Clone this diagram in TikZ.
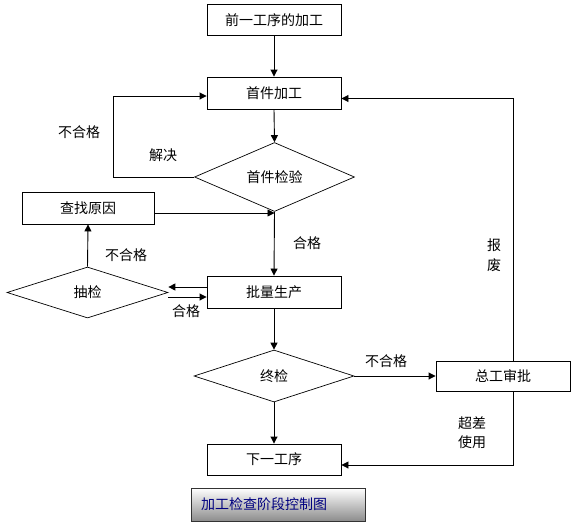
\documentclass[tikz,border=0pt]{standalone}
\usepackage{fontspec}
\newfontfamily\cjk{Noto Sans CJK SC}
\usetikzlibrary{arrows.meta,shapes.geometric}
\begin{document}
\begin{tikzpicture}[x=1pt,y=-1pt,
  every node/.style={font=\cjk\fontsize{14}{16}\selectfont},
  boxnode/.style={draw,line width=0.9pt,minimum width=134pt,minimum height=31pt,inner sep=0pt},
  dia/.style={draw,line width=0.7pt,shape=diamond,minimum width=160pt,minimum height=52pt,inner sep=0pt},
  arr/.style={line width=0.9pt,-{Triangle[length=7pt,width=7pt]}},
  lbl/.style={inner sep=0pt,align=center}]
\useasboundingbox (0,0) rectangle (580,527);
\fill[white] (0,0) rectangle (580,527);
% nodes
\node[boxnode] (b1) at (274,20) {前一工序的加工};
\node[boxnode,minimum height=32pt] (b2) at (274,93) {首件加工};
\node[dia] (d1) at (274.5,177) {首件检验};
\node[boxnode,minimum width=132pt,minimum height=32pt] (find) at (88,208) {查找原因};
\node[boxnode,minimum height=32pt] (mass) at (274,292) {批量生产};
\node[dia,minimum width=161pt,minimum height=51pt] (d2) at (87.5,292.5) {抽检};
\node[dia] (d3) at (274,376) {终检};
\node[boxnode,minimum height=30pt] (app) at (503,376) {总工审批};
\node[boxnode] (next) at (274,459.5) {下一工序};
\node[draw=black!80,line width=0.9pt,top color=white,bottom color=black!45,
      minimum width=174pt,minimum height=33pt,inner sep=0pt,text width=154pt,
      text=blue!50!black,align=left] (title) at (278,504.5) {加工检查阶段控制图};
% labels
\node[lbl] (l1) at (79,132) {不合格};
\node[lbl] (l2) at (163,155) {解决};
\node[lbl] (l3) at (307,243) {合格};
\node[lbl] (l4) at (126,255) {不合格};
\node[lbl] (l5) at (186,311) {合格};
\node[lbl] (l6) at (386,361) {不合格};
\node[lbl,font=\cjk\fontsize{14}{20}\selectfont] (l7) at (494,255) {报\\废};
\node[lbl,font=\cjk\fontsize{14}{19}\selectfont] (l8) at (472,433) {超差\\使用};
% connectors
\draw[arr] (b1.south) -- (b2.north);
\draw[arr] (b2.south) -- (d1.north);
\draw[arr] (d1.west) -- ++(-81,0) |- ([yshift=-3pt]b2.west);
\draw[arr] (d1.south) -- (mass.north);
\draw[arr] ([yshift=-5pt]find.east) -- ([yshift=-5pt]find.east -| d1.south);
\draw[arr] (d2.north) -- (find.south);
\draw[arr] ([yshift=5pt]mass.west) -- ([yshift=5pt]mass.west -| d2.east);
\draw[arr] ([yshift=-5pt]mass.west -| d2.east) -- ([yshift=-5pt]mass.west);
\draw[arr] (mass.south) -- (d3.north);
\draw[arr] (d3.east) -- (app.west);
\draw[arr] (d3.south) -- (next.north);
\draw[arr] ([xshift=10pt]app.north) |- ([yshift=-5.5pt]b2.east);
\draw[arr] ([xshift=10pt]app.south) |- ([yshift=-5.5pt]next.east);
\end{tikzpicture}
\end{document}
